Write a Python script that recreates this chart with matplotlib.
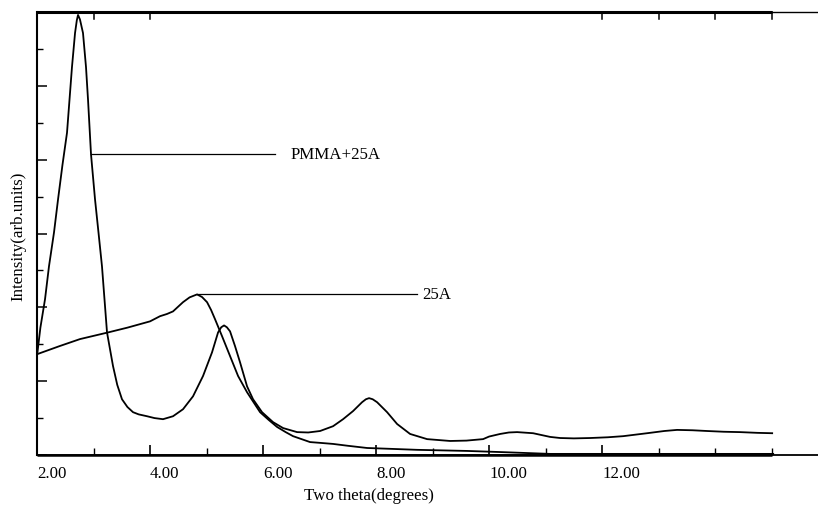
import matplotlib
matplotlib.use("Agg")
import matplotlib.pyplot as plt
from matplotlib.ticker import MultipleLocator, FixedLocator

# ---- data ----
pmma_x = [2.000, 2.060, 2.142, 2.212, 2.301, 2.372, 2.450, 2.531, 2.619, 2.673,
          2.705, 2.726, 2.760, 2.814, 2.867, 2.903, 2.956, 3.027, 3.090, 3.150,
          3.239, 3.345, 3.420, 3.504, 3.600, 3.699, 3.800, 3.947, 4.080, 4.230,
          4.407, 4.584, 4.761, 4.938, 5.097, 5.204, 5.260, 5.310, 5.360, 5.416,
          5.504, 5.593, 5.717, 5.823, 5.982, 6.177, 6.354, 6.602, 6.800, 7.009,
          7.239, 7.416, 7.593, 7.752, 7.820, 7.876, 7.940, 8.018, 8.195, 8.372,
          8.602, 8.903, 9.310, 9.600, 9.894, 10.000, 10.195, 10.350, 10.496,
          10.779, 11.080, 11.257, 11.500, 11.788, 12.100, 12.372, 12.796, 13.100,
          13.327, 13.600, 13.858, 14.150, 14.442, 14.750, 15.009]
pmma_y = [2.68, 3.45, 4.22, 5.11, 6.03, 6.92, 7.85, 8.73, 10.51, 11.43,
          11.78, 11.92, 11.80, 11.43, 10.51, 9.62, 8.14, 6.92, 6.00, 5.11,
          3.32, 2.41, 1.90, 1.51, 1.30, 1.16, 1.10, 1.05, 1.00, 0.97,
          1.05, 1.24, 1.59, 2.14, 2.78, 3.32, 3.46, 3.51, 3.46, 3.35,
          2.95, 2.51, 1.86, 1.51, 1.16, 0.89, 0.73, 0.62, 0.61, 0.65,
          0.78, 0.97, 1.19, 1.43, 1.51, 1.54, 1.51, 1.43, 1.16, 0.84,
          0.57, 0.43, 0.38, 0.39, 0.43, 0.50, 0.57, 0.61, 0.62,
          0.59, 0.49, 0.46, 0.45, 0.46, 0.48, 0.51, 0.59, 0.65,
          0.68, 0.67, 0.65, 0.63, 0.62, 0.60, 0.59]

clay_x = [2.000, 2.400, 2.761, 3.257, 3.600, 4.000, 4.177, 4.300, 4.407, 4.584,
          4.700, 4.832, 4.920, 5.009, 5.080, 5.150, 5.274, 5.416, 5.558, 5.717,
          5.947, 6.100, 6.248, 6.400, 6.531, 6.832, 7.000, 7.239, 7.500, 7.841,
          8.200, 8.726, 9.611, 10.195, 11.080, 12.500, 15.027]
clay_y = [2.73, 2.95, 3.14, 3.32, 3.45, 3.62, 3.76, 3.82, 3.89, 4.14,
          4.27, 4.35, 4.28, 4.14, 3.93, 3.68, 3.22, 2.68, 2.14, 1.70,
          1.16, 0.95, 0.76, 0.62, 0.51, 0.35, 0.33, 0.30, 0.25, 0.19,
          0.17, 0.14, 0.11, 0.08, 0.03, 0.03, 0.03]

series_labels = ["PMMA+25A", "25A"]
xtick_values = [2, 4, 6, 8, 10, 12]
xtick_labels = ["2.00", "4.00", "6.00", "8.00", "10.00", "12.00"]

# leader lines: (y, x_start, x_end, text x)
leaders = [(8.14, 2.956, 6.21, 6.48), (4.35, 4.832, 8.72, 8.82)]

serif = ["Liberation Serif", "DejaVu Serif"]

fig = plt.figure(figsize=(8.18, 5.06), dpi=100)
ax = fig.add_axes([37 / 818, 50 / 506, 1 - 37 / 818, (456 - 13) / 506])
ax.set_xlim(2, 15.82)
ax.set_ylim(0, 12)

ax.plot(pmma_x, pmma_y, color="black", lw=1.3)
ax.plot(clay_x, clay_y, color="black", lw=1.3)

for (yy, x0, x1, tx), lab in zip(leaders, series_labels):
    ax.plot([x0, x1], [yy, yy], color="black", lw=0.9)
    ax.text(tx, yy, lab, ha="left", va="center", fontsize=12.2,
            family=serif, color="black")

# spines
for s in ["right", "top"]:
    ax.spines[s].set_visible(False)
ax.spines["left"].set_linewidth(1.5)
ax.spines["bottom"].set_linewidth(1.3)
ax.plot([2, 15.0], [12, 12], color="black", lw=2.2, clip_on=False,
        solid_capstyle="butt")
ax.plot([15.0, 15.82], [12, 12], color="black", lw=1.0, clip_on=False)
ax.plot([2, 15.0], [0, 0], color="black", lw=1.8, clip_on=False,
        solid_capstyle="butt")

# ticks
ax.xaxis.set_major_locator(FixedLocator(xtick_values))
ax.set_xticklabels(xtick_labels, family=serif, fontsize=12.2)
for t in ax.get_xticklabels():
    t.set_horizontalalignment("left")
ax.xaxis.set_minor_locator(FixedLocator([3, 5, 7, 9, 11, 13, 14, 15]))
ax.tick_params(axis="x", which="major", direction="in", length=7, width=1.2,
               pad=7, top=False)
ax.tick_params(axis="x", which="minor", direction="in", length=5, width=1.0,
               top=False)
# top ticks (pointing down)
for xv in [3, 4, 12, 13, 14, 15]:
    ax.plot([xv, xv], [12, 11.8], color="black", lw=1.1, clip_on=False)

ax.yaxis.set_major_locator(MultipleLocator(2))
ax.yaxis.set_minor_locator(MultipleLocator(1))
ax.set_yticklabels([])
ax.tick_params(axis="y", which="major", direction="in", length=7, width=1.1)
ax.tick_params(axis="y", which="minor", direction="in", length=4, width=1.0)

fig.text(369 / 818, 1 - 496 / 506, "Two theta(degrees)", ha="center",
         va="center", fontsize=12.2, family=serif)
fig.text(18 / 818, 1 - 236 / 506, "Intensity(arb.units)", ha="center",
         va="center", rotation=90, fontsize=12.2, family=serif)

fig.savefig("out.png", dpi=100)
